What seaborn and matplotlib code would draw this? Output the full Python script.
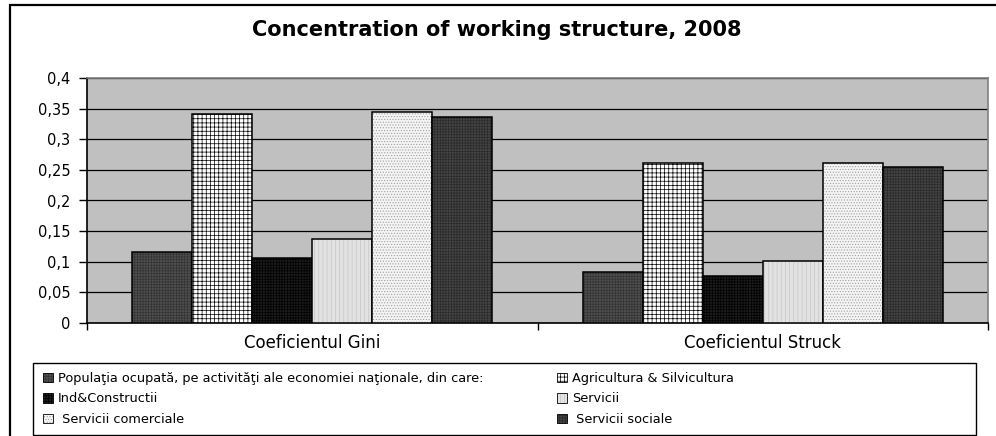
import matplotlib
matplotlib.use("Agg")
import matplotlib.pyplot as plt
import matplotlib.colors as mcolors
from matplotlib.patches import Rectangle
from matplotlib.ticker import FixedLocator, FixedFormatter
import seaborn as sns
import pandas as pd

# ---------------- data ----------------
categories = ["Coeficientul Gini", "Coeficientul Struck"]
series = [
    "Populaţia ocupată, pe activităţi ale economiei naţionale, din care:",
    "Agricultura & Silvicultura",
    "Ind&Constructii",
    "Servicii",
    " Servicii comerciale",
    " Servicii sociale",
]
gini_values = [0.116, 0.342, 0.106, 0.137, 0.344, 0.336]
struck_values = [0.084, 0.261, 0.077, 0.101, 0.262, 0.255]
y_ticks = [0, 0.05, 0.1, 0.15, 0.2, 0.25, 0.3, 0.35, 0.4]
y_tick_labels = ["0", "0,05", "0,1", "0,15", "0,2", "0,25", "0,3", "0,35", "0,4"]
title = "Concentration of working structure, 2008"

# styles
face_colors = ["#4f4f4f", "#ffffff", "#1c1c1c", "#e2e2e2", "#f4f4f4", "#444444"]
hatches = ["++++++", "++++", "++++++", "||||", "......", "++++++"]
hatch_colors = ["#333333", "#000000", "#000000", "#c4c4c4", "#a0a0a0", "#2a2a2a"]

rows = []
for cat, vals in zip(categories, [gini_values, struck_values]):
    for s, v in zip(series, vals):
        rows.append({"coef": cat, "series": s, "value": v})
df = pd.DataFrame(rows)

sns.set_style("white")
plt.rcParams["font.family"] = ["DejaVu Sans"]
plt.rcParams["text.color"] = "black"
plt.rcParams["xtick.color"] = "black"
plt.rcParams["ytick.color"] = "black"
plt.rcParams["xtick.labelcolor"] = "black"
plt.rcParams["ytick.labelcolor"] = "black"
plt.rcParams["hatch.linewidth"] = 0.5

fig = plt.figure(figsize=(9.96, 4.36), dpi=100)
ax = fig.add_axes([87 / 996, 1 - 323 / 436, (988 - 87) / 996, (323 - 78) / 436])

sns.barplot(data=df, x="coef", y="value", hue="series", order=categories,
            hue_order=series, palette=dict(zip(series, face_colors)),
            saturation=1, edgecolor="black", linewidth=1.1, ax=ax,
            legend=False, width=0.8)

for cont, fc, h, hc in zip(ax.containers, face_colors, hatches, hatch_colors):
    for bar in cont:
        bar.set_facecolor(fc)
        bar.set_hatch(h)
        bar.set_edgecolor("black")
        bar._hatch_color = mcolors.to_rgba(hc)
        bar.set_zorder(3)

ax.set_facecolor("#c0c0c0")
ax.set_ylim(0, 0.4)
ax.set_xlim(-0.5, 1.5)
ax.yaxis.set_major_locator(FixedLocator(y_ticks))
ax.yaxis.set_major_formatter(FixedFormatter(y_tick_labels))
ax.grid(axis="y", color="black", linewidth=0.9, zorder=1)
ax.set_axisbelow(True)
ax.set_xlabel("")
ax.set_ylabel("")

ax.tick_params(axis="y", which="major", left=True, length=6, width=1,
               color="black", labelcolor="black", direction="out", pad=6,
               labelsize=10.5)
ax.tick_params(axis="x", which="major", bottom=True, length=0, pad=8,
               labelsize=12, labelcolor="black")
ax.set_xticks([-0.5, 0.5, 1.5], minor=True)
ax.tick_params(axis="x", which="minor", bottom=True, length=5, width=1,
               color="black", direction="out")

for side in ["left", "bottom"]:
    ax.spines[side].set_color("black")
    ax.spines[side].set_linewidth(1.2)
for side in ["right", "top"]:
    ax.spines[side].set_color("#808080")
    ax.spines[side].set_linewidth(1.2)

fig.text(497 / 996, 1 - 30 / 436, title, ha="center", va="center",
         fontsize=15, fontweight="bold", color="black")

# outer chart frame
fig.patches.append(Rectangle((10 / 996, -0.05), 1.1, 1 - 5 / 436 + 0.05,
                             transform=fig.transFigure, fill=False,
                             edgecolor="black", linewidth=1.6))
# legend frame
fig.patches.append(Rectangle((33 / 996, 1 / 436), (976 - 33) / 996, (435 - 363) / 436,
                             transform=fig.transFigure, fill=False,
                             edgecolor="black", linewidth=1.0))

handles = [c[0] for c in ax.containers]
order = [0, 2, 4, 1, 3, 5]
leg = fig.legend([handles[i] for i in order], [series[i] for i in order],
                 loc="upper left", bbox_to_anchor=(43 / 996, 1 - 372 / 436),
                 bbox_transform=fig.transFigure, ncol=2, frameon=False,
                 fontsize=9.3, handlelength=0.75, handleheight=0.75,
                 handletextpad=0.4, labelspacing=0.58, columnspacing=5.7,
                 borderpad=0, borderaxespad=0)
for p in leg.get_patches():
    p.set_linewidth(0.6)
for t in leg.get_texts():
    t.set_color("black")

fig.savefig("out.png", dpi=100)
